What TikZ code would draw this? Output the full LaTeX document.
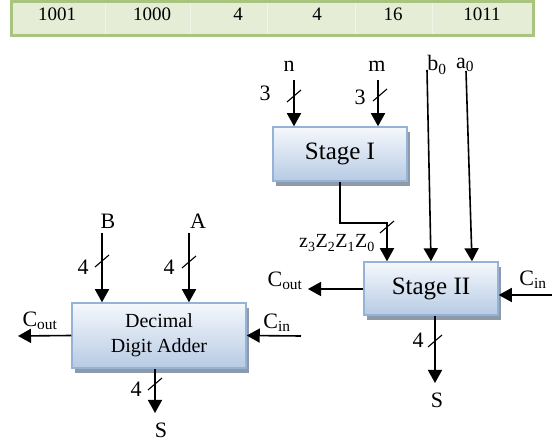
\documentclass[tikz,border=0pt]{standalone}
\usepackage{fontspec}
\setmainfont{Liberation Serif}
\usepackage{xcolor}
\usepackage{tikz}
\usetikzlibrary{positioning, arrows.meta, calc, shadows}
\definecolor{tbGreen}{HTML}{A9C47F}
\definecolor{tbFill}{HTML}{E6EDD6}
\definecolor{blkBorder}{HTML}{95B3D7}
\definecolor{blkTop}{HTML}{F5F8FC}
\definecolor{blkBottom}{HTML}{B7CBE4}
\definecolor{blkShadow}{HTML}{8E99A9}
\tikzset{
  block/.style={
    rectangle, draw=blkBorder, line width=1.5pt,
    top color=blkTop, bottom color=blkBottom,
    drop shadow={shadow xshift=3pt, shadow yshift=-5pt, fill=blkShadow, opacity=1},
    inner sep=0pt, align=center
  },
  sig/.style={
    -{Triangle[length=13pt, width=14pt]},
    black, line width=1.6pt
  },
  busmark/.style={black, line width=1.1pt},
  pinlabel/.style={font=\fontsize{22}{24}\selectfont, inner sep=0pt},
  cellnum/.style={font=\fontsize{19}{21}\selectfont, inner sep=0pt},
  bus/.pic={\draw[busmark] (-7,6) -- (7,-6);}
}

\begin{document}
\begin{tikzpicture}[x=1pt, y=-1pt]
  \fill[white] (0,0) rectangle (552,446);
  \useasboundingbox (0,0) rectangle (552,446);

  % table strip
  \draw[tbGreen, line width=3pt, fill=tbFill] (11.5,1.5) rectangle (533.5,35.5);
  \draw[white, line width=0.6pt, opacity=0.45] (105,3) -- (105,34) (190,3) -- (190,34)
    (267,3) -- (267,34) (355,3) -- (355,34) (432,3) -- (432,34);
  \node[cellnum] (c1) at (57,14) {1001};
  \node[cellnum] (c2) at (152,14) {1000};
  \node[cellnum] (c3) at (238,14) {4};
  \node[cellnum] (c4) at (317,14) {4};
  \node[cellnum] (c5) at (393,14) {16};
  \node[cellnum] (c6) at (482,14) {1011};

  % blocks
  \node[block, minimum width=134, minimum height=54, font=\fontsize{25}{28}\selectfont] (stageI) at (340,154) {Stage I};
  \node[block, minimum width=134, minimum height=53, font=\fontsize{25}{28}\selectfont] (stageII) at (431,288.5) {Stage II};
  \node[block, minimum width=174, minimum height=65, font=\fontsize{20}{25}\selectfont] (dda) at (159,335.5) {Decimal\\Digit Adder};

  % free ends
  \coordinate (nIn) at (294,80);
  \coordinate (mIn) at (378,80);
  \coordinate (bIn) at (427,70);
  \coordinate (aIn) at (466,71);
  \coordinate (coutII) at (308,289);
  \coordinate (cinII) at (552,295);
  \coordinate (sII) at (435,383);
  \coordinate (BIn) at (102,233);
  \coordinate (AIn) at (189,233);
  \coordinate (coutD) at (18,336);
  \coordinate (cinD) at (301,336);
  \coordinate (sD) at (155,413);

  % stage I / stage II
  \draw[sig] (nIn) -- (nIn |- stageI.north);
  \draw[sig] (mIn) -- (mIn |- stageI.north);
  \draw[sig] (bIn) -- (stageII.north);
  \draw[sig] (aIn) -- ([xshift=41pt]stageII.north);
  \draw[sig] (stageI.south) -- ++(0,41) -| ([xshift=-44pt]stageII.north);
  \draw[sig] (stageII.west |- coutII) -- (coutII);
  \draw[sig] (cinII) -- (cinII -| stageII.east);
  \draw[sig] (sII |- stageII.south) -- (sII);

  % decimal digit adder
  \draw[sig] (BIn) -- (BIn |- dda.north);
  \draw[sig] (AIn) -- (AIn |- dda.north);
  \draw[sig] (dda.west) -- (coutD);
  \draw[sig] (cinD) -- (dda.east);
  \draw[sig] (sD |- dda.south) -- (sD);

  % bus widths
  \pic at (294,96) {bus};
  \pic at (380,95) {bus};
  \pic at (387,227) {bus};
  \pic at (435,341) {bus};
  \pic at (102,261) {bus};
  \pic at (189,262) {bus};
  \pic at (155,384) {bus};

  % labels
  \node[pinlabel] (nlab) at (289,66) {n};
  \node[pinlabel] (mlab) at (377,66) {m};
  \node[pinlabel] (b0lab) at (437,65) {b\textsubscript{0}};
  \node[pinlabel] (a0lab) at (465,65) {a\textsubscript{0}};
  \node[pinlabel] (wn) at (265,93) {3};
  \node[pinlabel] (wm) at (360,97) {3};
  \node[font=\fontsize{20}{22}\selectfont, inner sep=0pt] (zlab) at (337,243) {z\textsubscript{3}Z\textsubscript{2}Z\textsubscript{1}Z\textsubscript{0}};
  \node[pinlabel] (coutIIlab) at (285,281) {C\textsubscript{out}};
  \node[pinlabel] (cinIIlab) at (533,280) {C\textsubscript{in}};
  \node[pinlabel] (wsII) at (418,340) {4};
  \node[pinlabel] (sIIlab) at (437,400) {S};
  \node[pinlabel] (Blab) at (108,221) {B};
  \node[pinlabel] (Alab) at (198,221) {A};
  \node[pinlabel] (wB) at (83,267) {4};
  \node[pinlabel] (wA) at (169,267) {4};
  \node[pinlabel] (coutDlab) at (40,321) {C\textsubscript{out}};
  \node[pinlabel] (cinDlab) at (277,323) {C\textsubscript{in}};
  \node[pinlabel] (wsD) at (136,389) {4};
  \node[pinlabel] (sDlab) at (161,430) {S};
\end{tikzpicture}
\end{document}
